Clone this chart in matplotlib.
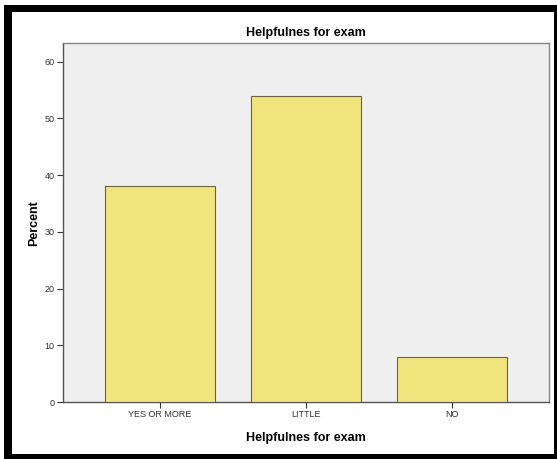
import matplotlib.pyplot as plt
from matplotlib.patches import Rectangle

plt.rcParams['font.family'] = ['Liberation Sans', 'DejaVu Sans']

categories = ['YES OR MORE', 'LITTLE', 'NO']
percent = [38, 54, 8]
yticks = [0, 10, 20, 30, 40, 50, 60]

W, H = 557, 459
fig = plt.figure(figsize=(W / 100, H / 100), dpi=100)


def frame_bar(x0, y0, x1, y1):
    # pixel box, y measured from the top of the image
    fig.patches.append(Rectangle((x0 / W, 1 - y1 / H), (x1 - x0) / W, (y1 - y0) / H,
                                 transform=fig.transFigure, facecolor='black',
                                 edgecolor='none', zorder=10))


# black frame round the whole output
frame_bar(4, 5, 557, 12)
frame_bar(4, 454, 557, 459)
frame_bar(4, 5, 12, 459)
frame_bar(554, 5, 557, 459)

ax = fig.add_axes([63 / W, 1 - 402 / H, (549 - 63) / W, (402 - 43.3) / H])
ax.set_facecolor('#efefef')

x = range(len(categories))
ax.bar(x, percent, width=0.753, color='#f0e47c', edgecolor='#6b6440', linewidth=0.8, zorder=3)

ax.set_xlim(-0.664, 2.664)
ax.set_ylim(0, 63.25)
ax.set_xticks(list(x))
ax.set_xticklabels(categories)
ax.set_yticks(yticks)

for s in ax.spines.values():
    s.set_color('#888888')
    s.set_linewidth(1.0)
ax.spines['left'].set_color('#555555')
ax.spines['bottom'].set_color('#555555')

ax.tick_params(axis='both', labelsize=6.5, colors='#333333', length=4, width=0.8, pad=2)

ax.set_title('Helpfulnes for exam', fontsize=9, fontweight='bold', pad=5)
ax.set_xlabel('Helpfulnes for exam', fontsize=9, fontweight='bold', labelpad=9)
ax.set_ylabel('Percent', fontsize=9, fontweight='bold', labelpad=3)

fig.savefig('out.png', dpi=100)
